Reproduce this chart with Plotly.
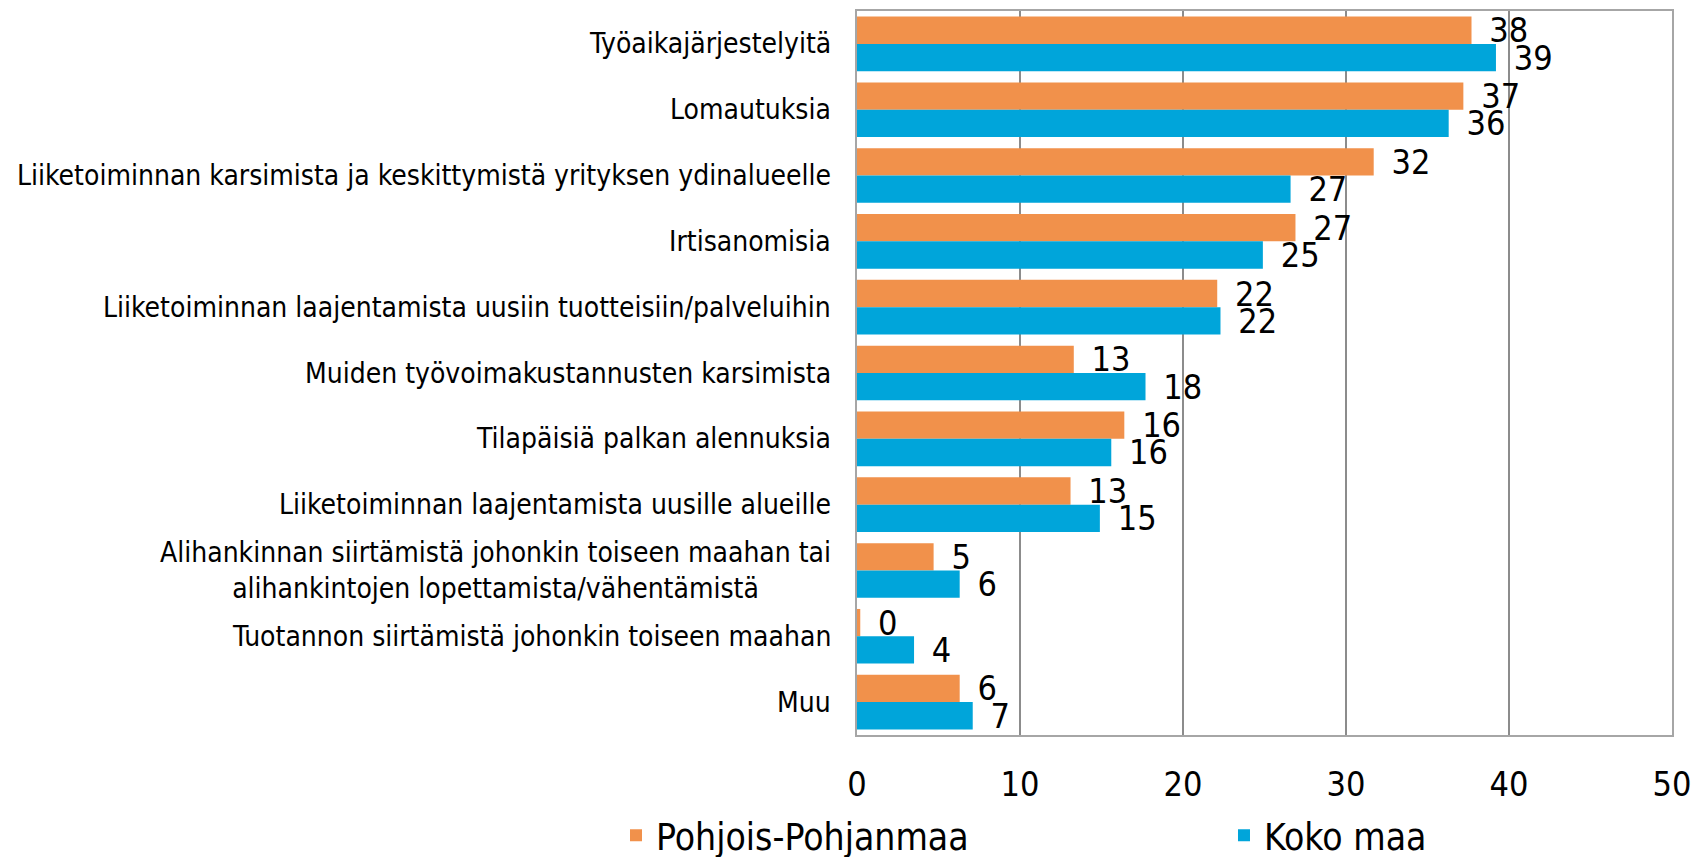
import plotly.graph_objects as go

categories = [
    "Työaikajärjestelyitä",
    "Lomautuksia",
    "Liiketoiminnan karsimista ja keskittymistä yrityksen ydinalueelle",
    "Irtisanomisia",
    "Liiketoiminnan laajentamista uusiin tuotteisiin/palveluihin",
    "Muiden työvoimakustannusten karsimista",
    "Tilapäisiä palkan alennuksia",
    "Liiketoiminnan laajentamista uusille alueille",
    "Alihankinnan siirtämistä johonkin toiseen maahan tai<br>alihankintojen lopettamista/vähentämistä",
    "Tuotannon siirtämistä johonkin toiseen maahan",
    "Muu",
]
pohjois = [37.7, 37.2, 31.7, 26.9, 22.1, 13.3, 16.4, 13.1, 4.7, 0.2, 6.3]
koko = [39.2, 36.3, 26.6, 24.9, 22.3, 17.7, 15.6, 14.9, 6.3, 3.5, 7.1]
series_names = ["Pohjois-Pohjanmaa", "Koko maa"]
x_ticks = [0, 10, 20, 30, 40, 50]

ORANGE = "#F1914B"
BLUE = "#00A5DA"
FONT = "DejaVu Sans Condensed"

fig = go.Figure()
for name, vals, col, lg in [(series_names[0], pohjois, ORANGE, "legend"),
                            (series_names[1], koko, BLUE, "legend2")]:
    fig.add_trace(go.Bar(
        y=categories, x=vals, name=name, orientation="h", legend=lg,
        marker=dict(color=col, line=dict(width=0)),
        texttemplate="\u00a0\u2006%{x:.0f}", textposition="outside",
        constraintext="none", cliponaxis=False,
        textfont=dict(family=FONT, size=34, color="black"),
    ))

for c in categories:
    fig.add_annotation(
        x=0, xref="paper", xanchor="right", xshift=-24,
        y=c, yref="y", text=c, showarrow=False, align="center",
        font=dict(family=FONT, size=28, color="black"),
    )

legend_common = dict(
    orientation="h", yanchor="middle", y=-0.139, xanchor="left",
    font=dict(family=FONT, size=37, color="black"),
    bgcolor="rgba(0,0,0,0)",
)

fig.update_layout(
    width=1702, height=857, autosize=False,
    margin=dict(l=857, r=30, t=11, b=122, pad=0, autoexpand=False),
    paper_bgcolor="white", plot_bgcolor="white",
    barmode="group", bargap=0.17, bargroupgap=0.0,
    font=dict(family=FONT, color="black"),
    showlegend=True,
    legend=dict(x=-0.2957, **legend_common),
    legend2=dict(x=0.4503, **legend_common),
    xaxis=dict(
        range=[0, 50], tickvals=x_ticks, ticktext=[str(t) for t in x_ticks],
        showgrid=True, gridcolor="#8c8c8c", gridwidth=1.5,
        showline=True, linecolor="#a6a6a6", linewidth=2, mirror=True,
        ticks="", ticklabelstandoff=18,
        tickfont=dict(family=FONT, size=34, color="black"),
        zeroline=False,
    ),
    yaxis=dict(
        type="category", categoryorder="array", categoryarray=categories,
        autorange="reversed", showticklabels=False, showgrid=False,
        showline=True, linecolor="#a6a6a6", linewidth=2, mirror=True,
        ticks="", zeroline=False,
    ),
)

fig.write_html(
    "out.html",
    config={"displayModeBar": False},
    post_script="document.body.style.margin='0';document.body.style.overflow='hidden';",
)
